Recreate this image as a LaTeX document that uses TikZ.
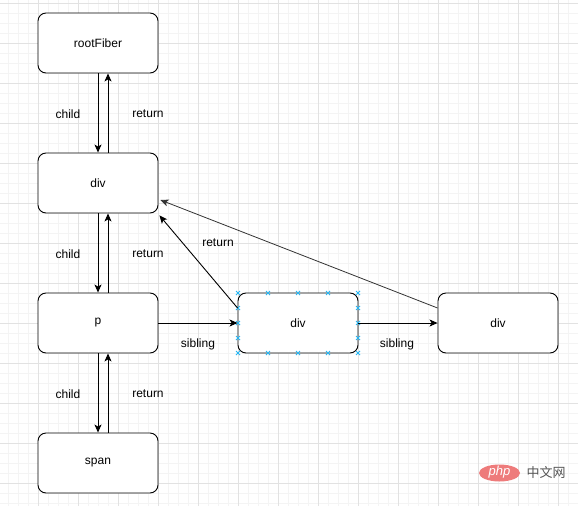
\documentclass[tikz,border=0pt]{standalone}
\usepackage{fontspec}
\setmainfont{Liberation Sans}
\newfontfamily\cjkfont{Noto Sans CJK SC}
\usetikzlibrary{arrows.meta}
\definecolor{majorgrid}{HTML}{E2E2E2}
\definecolor{minorgrid}{HTML}{F4F4F4}
\definecolor{handle}{HTML}{29B6F2}
\definecolor{phpred}{HTML}{EE7B7B}
\definecolor{wmgray}{HTML}{555555}
\tikzset{
  fbox/.style={draw=black, line width=0.9pt, rounded corners=8pt, minimum width=120pt, minimum height=60pt, fill=white, font=\fontsize{12}{14}\selectfont, inner sep=0pt},
  arr/.style={draw=black, line width=0.9pt, -{Stealth[length=8pt,width=7pt,inset=2pt]}},
  thinarr/.style={draw=black!80, line width=0.8pt, -{Stealth[length=8pt,width=7pt,inset=2pt]}},
  lbl/.style={font=\fontsize{12}{14}\selectfont, inner sep=0pt},
  hmark/.style={draw=handle, line width=0.8pt}
}
\begin{document}
\begin{tikzpicture}[x=1pt,y=-1pt]
\useasboundingbox (0,0) rectangle (578,506);
\fill[white] (0,0) rectangle (578,506);
% minor grid
\foreach \gx in {8,18,...,578} \draw[minorgrid, line width=0.5pt] (\gx,0) -- (\gx,506);
\foreach \gy in {3,13,...,506} \draw[minorgrid, line width=0.5pt] (0,\gy) -- (578,\gy);
% major grid
\foreach \gx in {38,78,...,578} \draw[majorgrid, line width=0.7pt] (\gx,0) -- (\gx,506);
\foreach \gy in {3,43,...,506} \draw[majorgrid, line width=0.7pt] (0,\gy) -- (578,\gy);

% nodes
\node[fbox] (root) at (98,43) {rootFiber};
\node[fbox] (div1) at (98,183) {div};
\node[fbox] (p) at (98,323) {p};
\node[fbox] (span) at (98,463) {span};
\node[fbox] (div2) at (298,323) {div};
\node[fbox] (div3) at (498,323) {div};

% selection handles on div2
\foreach \hx in {238,268,298,328,358} {
  \foreach \hy in {293,353} {
    \draw[hmark] (\hx-2,\hy-2) -- (\hx+2,\hy+2) (\hx-2,\hy+2) -- (\hx+2,\hy-2);
  }
}
\foreach \hx in {238,358} {
  \foreach \hy in {308,323,338} {
    \draw[hmark] (\hx-2,\hy-2) -- (\hx+2,\hy+2) (\hx-2,\hy+2) -- (\hx+2,\hy-2);
  }
}

% child / return pairs
\draw[arr] (root.south) -- (div1.north);
\draw[arr] ([xshift=10pt]div1.north) -- ([xshift=10pt]root.south);
\draw[arr] (div1.south) -- (p.north);
\draw[arr] ([xshift=10pt]p.north) -- ([xshift=10pt]div1.south);
\draw[arr] (p.south) -- (span.north);
\draw[arr] ([xshift=10pt]span.north) -- ([xshift=10pt]p.south);

\node[lbl] (c1) at (68,114) {child};
\node[lbl] (r1) at (148,114) {return};
\node[lbl] (c2) at (68,254) {child};
\node[lbl] (r2) at (148,254) {return};
\node[lbl] (c3) at (68,394) {child};
\node[lbl] (r3) at (148,394) {return};

% siblings
\draw[arr] (p.east) -- (div2.west);
\draw[arr] (div2.east) -- (div3.west);
\node[lbl] (s1) at (198,344) {sibling};
\node[lbl] (s2) at (397,344) {sibling};

% diagonal returns
\draw[arr] ([yshift=15pt]div2.west) -- ([shift={(1pt,-2pt)}]div1.south east);
\node[lbl] (r4) at (218,243) {return};
\draw[thinarr] ([yshift=15pt]div3.west) -- ([shift={(2pt,-17pt)}]div1.east);

% watermark
\fill[phpred] (499.5,473) ellipse (20.5pt and 8.5pt);
\node[text=white, font=\fontsize{13}{13}\selectfont\itshape, inner sep=0pt] (wm1) at (499.5,472) {php};
\node[text=wmgray, font=\cjkfont\fontsize{13}{13}\selectfont, inner sep=0pt] (wm2) at (546,473) {中文网};
\end{tikzpicture}
\end{document}
